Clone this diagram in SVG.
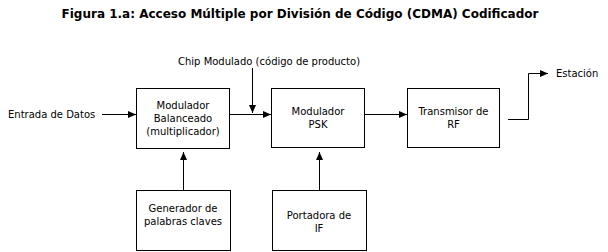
<svg xmlns="http://www.w3.org/2000/svg" width="608" height="252" viewBox="0 0 608 252">
<defs>
<marker id="ah" viewBox="0 0 8 8" refX="8" refY="4" markerWidth="8" markerHeight="8" markerUnits="userSpaceOnUse" orient="auto">
<path d="M0,0.5 L8,4 L0,7.5 Z" fill="#000"/>
</marker>
<style>
.box{fill:#fff;stroke:#000;stroke-width:1}
.t{font-family:"DejaVu Sans",Verdana,sans-serif;font-size:10px;fill:#000}
.m{text-anchor:middle}
.ttl{font-family:"DejaVu Sans",Verdana,sans-serif;font-size:12px;font-weight:bold;fill:#000;text-anchor:middle}
.c{fill:none;stroke:#000;stroke-width:1}
</style>
</defs>
<rect width="608" height="252" fill="#fff"/>
<text class="ttl" x="300" y="18">Figura 1.a: Acceso Múltiple por División de Código (CDMA) Codificador</text>
<g id="connectors">
<path class="c" d="M102,114.5 H136" marker-end="url(#ah)"/>
<path class="c" d="M230,114.5 H271" marker-end="url(#ah)"/>
<path class="c" d="M252.5,68 V113" marker-end="url(#ah)"/>
<path class="c" d="M364,114.5 H407" marker-end="url(#ah)"/>
<path class="c" d="M508,119.5 H528.5 V73.5 H548" marker-end="url(#ah)"/>
<path class="c" d="M183.5,190 V152" marker-end="url(#ah)"/>
<path class="c" d="M319.5,190 V152" marker-end="url(#ah)"/>
</g>
<g id="lbl-entrada"><text class="t" x="8" y="118">Entrada de Datos</text></g>
<g id="lbl-chip"><text class="t" x="178" y="65">Chip Modulado (código de producto)</text></g>
<g id="lbl-estacion"><text class="t" x="556" y="77">Estación</text></g>
<g id="mod-balanceado">
<rect class="box" x="136.5" y="88.5" width="93" height="60"/>
<text class="t m" x="183" y="109">Modulador</text>
<text class="t m" x="183" y="122">Balanceado</text>
<text class="t m" x="183" y="135">(multiplicador)</text>
</g>
<g id="mod-psk">
<rect class="box" x="271.5" y="88.5" width="93" height="59"/>
<text class="t m" x="318" y="115">Modulador</text>
<text class="t m" x="318" y="128">PSK</text>
</g>
<g id="transmisor">
<rect class="box" x="407.5" y="88.5" width="92" height="59"/>
<text class="t m" x="453.5" y="115">Transmisor de</text>
<text class="t m" x="453.5" y="128">RF</text>
</g>
<g id="generador">
<rect class="box" x="136.5" y="190.5" width="94" height="60"/>
<text class="t m" x="183" y="212">Generador de</text>
<text class="t m" x="183" y="225">palabras claves</text>
</g>
<g id="portadora">
<rect class="box" x="272.5" y="190.5" width="94" height="60"/>
<text class="t m" x="319" y="219">Portadora de</text>
<text class="t m" x="319" y="232">IF</text>
</g>
</svg>
